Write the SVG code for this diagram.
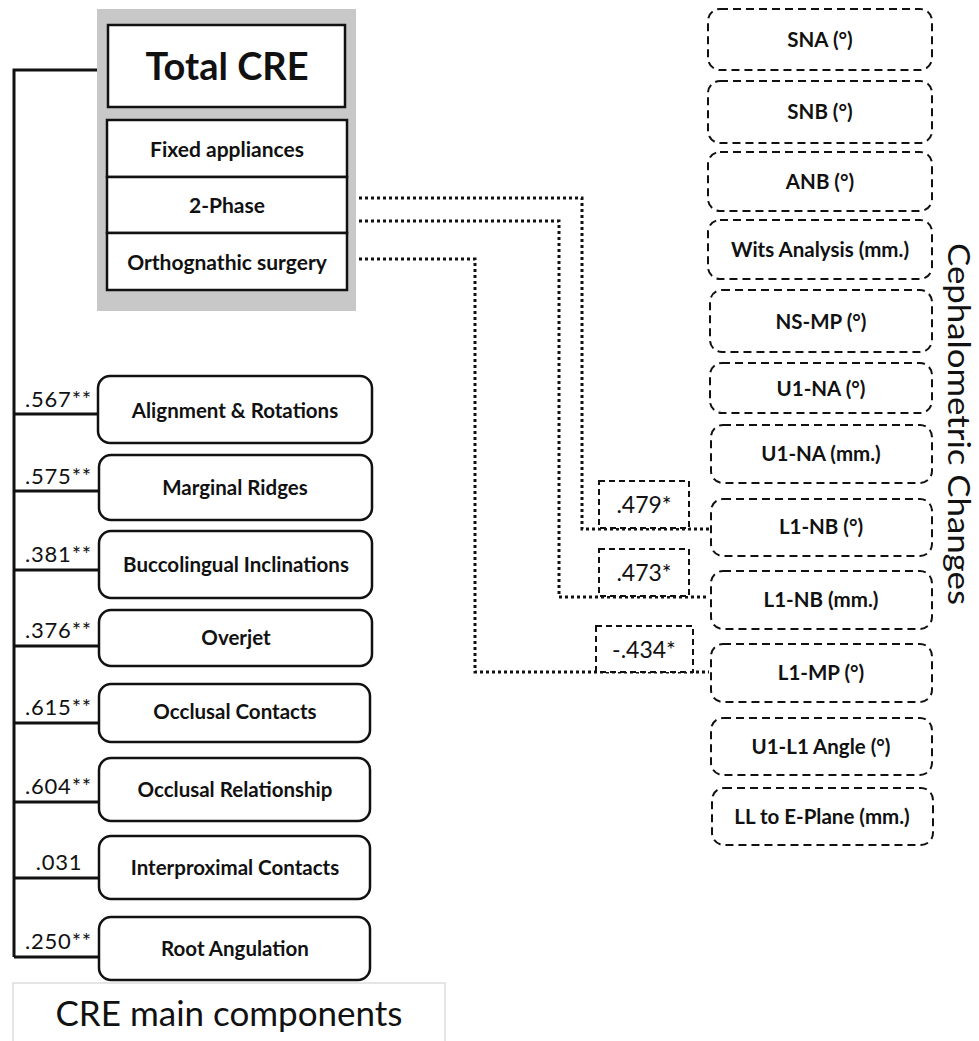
<svg xmlns="http://www.w3.org/2000/svg" width="979" height="1041" viewBox="0 0 979 1041">
<style>
  .bold { font-family: Lato, "Open Sans", sans-serif; font-weight: bold; fill: #111; }
  .reg { font-family: Lato, "Open Sans", sans-serif; font-weight: normal; fill: #111; }
  .comp { fill: #fff; stroke: #111; stroke-width: 2.5; }
  .ceph { fill: #fff; stroke: #111; stroke-width: 2; stroke-dasharray: 8 5; }
  .val { fill: #fff; stroke: #111; stroke-width: 2; stroke-dasharray: 6 4; }
  .solid { fill: none; stroke: #111; stroke-width: 3; }
  .dot { fill: none; stroke: #111; stroke-width: 3; stroke-dasharray: 3 3; }
  .sq { fill: #fff; stroke: #111; stroke-width: 2.5; }
  .ct { font-size: 20.5px; }
  .cp { font-size: 20.5px; }
  .lab { font-size: 22px; letter-spacing: 0.8px; }
</style>
<rect width="979" height="1041" fill="#fff"/>

<!-- connectors -->
<g id="connectors">
  <path class="solid" d="M108 70 H14 V957"/>
  <path class="solid" d="M14 414 H98 M14 491 H98 M14 570 H98 M14 646 H98 M14 723 H98 M14 802 H98 M14 878 H98 M14 957 H98"/>
  <path class="dot" d="M347 198 H582 V529 H709"/>
  <path class="dot" d="M347 221 H559 V597 H709"/>
  <path class="dot" d="M347 259 H475 V672 H709"/>
</g>

<!-- CRE group -->
<g id="cre-group">
  <rect x="97" y="9" width="259" height="302" fill="#c8c8c8"/>
</g>
<g id="total-cre">
  <rect class="sq" x="108" y="25" width="237" height="82"/>
  <text class="bold" x="227" y="80" font-size="38" text-anchor="middle">Total CRE</text>
</g>
<g id="fixed-appliances">
  <rect class="sq" x="107" y="120" width="240" height="57"/>
  <text class="bold" x="227" y="157" font-size="21" text-anchor="middle">Fixed appliances</text>
</g>
<g id="two-phase">
  <rect class="sq" x="107" y="177" width="240" height="56"/>
  <text class="bold" x="227" y="213" font-size="21" text-anchor="middle">2-Phase</text>
</g>
<g id="orthognathic">
  <rect class="sq" x="107" y="233" width="240" height="57"/>
  <text class="bold" x="227" y="270" font-size="21" text-anchor="middle">Orthognathic surgery</text>
</g>

<!-- CRE components -->
<g id="comp-alignment">
  <rect class="comp" x="98" y="376" width="274" height="67" rx="12"/>
  <text class="bold ct" x="235" y="418" text-anchor="middle">Alignment &amp; Rotations</text>
  <text class="reg lab" x="25" y="407">.567**</text>
</g>
<g id="comp-marginal">
  <rect class="comp" x="99" y="455" width="273" height="65" rx="12"/>
  <text class="bold ct" x="235" y="495" text-anchor="middle">Marginal Ridges</text>
  <text class="reg lab" x="25" y="484">.575**</text>
</g>
<g id="comp-bucco">
  <rect class="comp" x="99" y="531" width="273" height="67" rx="12"/>
  <text class="bold ct" x="236" y="572" text-anchor="middle">Buccolingual Inclinations</text>
  <text class="reg lab" x="25" y="562">.381**</text>
</g>
<g id="comp-overjet">
  <rect class="comp" x="99" y="610" width="273" height="56" rx="12"/>
  <text class="bold ct" x="236" y="645" text-anchor="middle">Overjet</text>
  <text class="reg lab" x="25" y="638">.376**</text>
</g>
<g id="comp-occ-contacts">
  <rect class="comp" x="99" y="684" width="271" height="58" rx="12"/>
  <text class="bold ct" x="235" y="719" text-anchor="middle">Occlusal Contacts</text>
  <text class="reg lab" x="25" y="715">.615**</text>
</g>
<g id="comp-occ-rel">
  <rect class="comp" x="99" y="758" width="271" height="63" rx="12"/>
  <text class="bold ct" x="235" y="797" text-anchor="middle">Occlusal Relationship</text>
  <text class="reg lab" x="25" y="794">.604**</text>
</g>
<g id="comp-interprox">
  <rect class="comp" x="99" y="836" width="271" height="63" rx="12"/>
  <text class="bold ct" x="235" y="875" text-anchor="middle">Interproximal Contacts</text>
  <text class="reg lab" x="59" y="870" text-anchor="middle">.031</text>
</g>
<g id="comp-root">
  <rect class="comp" x="99" y="917" width="271" height="63" rx="12"/>
  <text class="bold ct" x="235" y="956" text-anchor="middle">Root Angulation</text>
  <text class="reg lab" x="25" y="949">.250**</text>
</g>

<g id="cre-main-label">
  <rect x="13" y="983" width="432" height="70" fill="#fff" stroke="#ddd" stroke-width="1.5"/>
  <text class="reg" x="229" y="1026" font-size="35" text-anchor="middle">CRE main components</text>
</g>

<!-- cephalometric variables -->
<g id="ceph-sna">
  <rect class="ceph" x="708" y="9" width="224" height="61" rx="12"/>
  <text class="bold cp" x="820" y="47" text-anchor="middle">SNA (°)</text>
</g>
<g id="ceph-snb">
  <rect class="ceph" x="708" y="81" width="224" height="62" rx="12"/>
  <text class="bold cp" x="820" y="119" text-anchor="middle">SNB (°)</text>
</g>
<g id="ceph-anb">
  <rect class="ceph" x="708" y="152" width="224" height="59" rx="12"/>
  <text class="bold cp" x="820" y="189" text-anchor="middle">ANB (°)</text>
</g>
<g id="ceph-wits">
  <rect class="ceph" x="708" y="220" width="224" height="59" rx="12"/>
  <text class="bold cp" x="820" y="257" text-anchor="middle">Wits Analysis (mm.)</text>
</g>
<g id="ceph-nsmp">
  <rect class="ceph" x="710" y="290" width="222" height="62" rx="12"/>
  <text class="bold cp" x="821" y="329" text-anchor="middle">NS-MP (°)</text>
</g>
<g id="ceph-u1na-deg">
  <rect class="ceph" x="710" y="363" width="222" height="50" rx="12"/>
  <text class="bold cp" x="821" y="396" text-anchor="middle">U1-NA (°)</text>
</g>
<g id="ceph-u1na-mm">
  <rect class="ceph" x="711" y="425" width="221" height="58" rx="12"/>
  <text class="bold cp" x="821" y="461" text-anchor="middle">U1-NA (mm.)</text>
</g>
<g id="ceph-l1nb-deg">
  <rect class="ceph" x="711" y="499" width="221" height="57" rx="12"/>
  <text class="bold cp" x="821" y="534" text-anchor="middle">L1-NB (°)</text>
</g>
<g id="ceph-l1nb-mm">
  <rect class="ceph" x="711" y="571" width="221" height="58" rx="12"/>
  <text class="bold cp" x="821" y="607" text-anchor="middle">L1-NB (mm.)</text>
</g>
<g id="ceph-l1mp">
  <rect class="ceph" x="711" y="644" width="221" height="58" rx="12"/>
  <text class="bold cp" x="821" y="680" text-anchor="middle">L1-MP (°)</text>
</g>
<g id="ceph-u1l1">
  <rect class="ceph" x="711" y="718" width="221" height="57" rx="12"/>
  <text class="bold cp" x="821" y="754" text-anchor="middle">U1-L1 Angle (°)</text>
</g>
<g id="ceph-ll-e">
  <rect class="ceph" x="712" y="788" width="221" height="57" rx="12"/>
  <text class="bold cp" x="822" y="824" text-anchor="middle">LL to E-Plane (mm.)</text>
</g>

<text id="ceph-title" class="reg" font-size="31" text-anchor="middle" textLength="362" lengthAdjust="spacingAndGlyphs" transform="translate(948 424) rotate(90)">Cephalometric Changes</text>

<!-- correlation value boxes -->
<g id="val-479">
  <rect class="val" x="599" y="481" width="90" height="47"/>
  <text class="reg" x="644" y="513" font-size="23" text-anchor="middle">.479*</text>
</g>
<g id="val-473">
  <rect class="val" x="599" y="549" width="90" height="47"/>
  <text class="reg" x="644" y="581" font-size="23" text-anchor="middle">.473*</text>
</g>
<g id="val-434">
  <rect class="val" x="596" y="626" width="97" height="46"/>
  <text class="reg" x="644" y="658" font-size="23" text-anchor="middle">-.434*</text>
</g>
</svg>
